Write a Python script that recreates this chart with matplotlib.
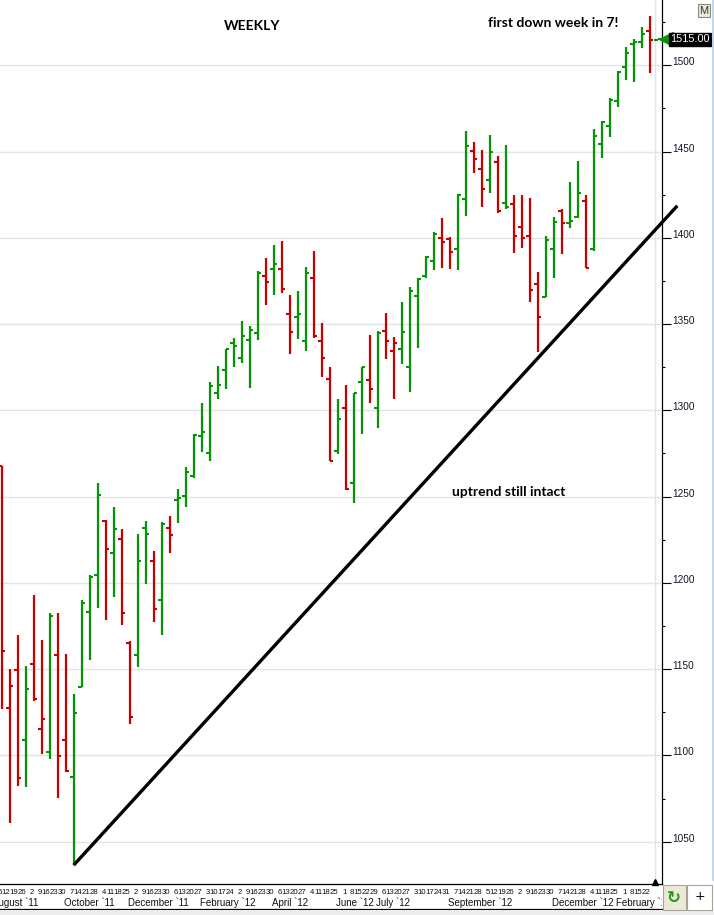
import numpy as np
import pandas as pd
import matplotlib
matplotlib.use('Agg')
import matplotlib.pyplot as plt
import matplotlib.transforms as mtransforms
from matplotlib.patches import Rectangle

# weekly bars, week ending Friday
dates = pd.date_range('2011-08-05', periods=83, freq='7D')

opens = [1267.8, 1127.3, 1149.5, 1108.9, 1153.2, 1115.4, 1102.0, 1158.4, 1109.1, 1087.7,
         1139.8, 1183.3, 1204.7, 1235.9, 1217.5, 1225.2, 1164.9, 1158.4, 1232.0, 1212.9,
         1190.1, 1232.0, 1248.2, 1250.4, 1262.1, 1285.1, 1275.5, 1310.2, 1323.4, 1339.2,
         1330.5, 1340.8, 1345.0, 1378.1, 1381.9, 1381.9, 1355.9, 1354.1, 1340.4, 1376.9,
         1340.4, 1318.0, 1276.6, 1301.6, 1258.1, 1316.3, 1317.5, 1301.6, 1346.2, 1334.6,
         1335.4, 1325.3, 1366.5, 1378.1, 1386.8, 1400.1, 1399.5, 1393.7, 1422.5, 1450.5,
         1440.1, 1433.7, 1444.1, 1420.4, 1419.8, 1406.5, 1401.2, 1373.4, 1365.9, 1393.7,
         1415.7, 1408.8, 1412.2, 1421.5, 1393.5, 1454.6, 1464.8, 1479.5, 1499.2, 1512.5,
         1513.7, 1520.1, 1514.6]
highs = [1267.8, 1149.9, 1169.8, 1151.8, 1192.7, 1166.8, 1182.8, 1182.8, 1158.8, 1135.4,
         1189.8, 1204.6, 1258.0, 1236.4, 1244.2, 1231.2, 1166.2, 1228.3, 1235.9, 1218.6,
         1235.1, 1238.8, 1254.2, 1267.0, 1286.1, 1304.3, 1316.3, 1325.7, 1335.6, 1342.1,
         1351.8, 1348.9, 1380.8, 1388.3, 1395.8, 1398.2, 1366.9, 1369.2, 1382.9, 1392.4,
         1350.5, 1324.9, 1306.4, 1314.5, 1310.2, 1325.3, 1343.5, 1346.2, 1356.3, 1342.7,
         1362.6, 1371.7, 1376.9, 1389.7, 1403.2, 1411.3, 1400.7, 1425.2, 1461.9, 1455.5,
         1450.9, 1459.6, 1447.4, 1453.8, 1424.8, 1424.8, 1423.3, 1380.2, 1401.1, 1412.1,
         1416.7, 1432.3, 1444.5, 1424.8, 1463.1, 1467.7, 1480.9, 1496.9, 1510.8, 1515.2,
         1522.4, 1528.7, 1515.4]
lows = [1126.7, 1060.7, 1082.5, 1081.9, 1131.7, 1100.8, 1097.8, 1075.5, 1090.6, 1036.4,
        1139.8, 1155.3, 1185.6, 1178.5, 1192.0, 1175.6, 1118.1, 1151.4, 1199.4, 1177.5,
        1169.8, 1217.5, 1234.5, 1244.2, 1261.0, 1276.0, 1270.8, 1306.8, 1312.6, 1325.3,
        1327.6, 1313.2, 1340.8, 1361.1, 1366.9, 1368.2, 1332.7, 1341.6, 1334.6, 1342.2,
        1319.5, 1270.6, 1274.5, 1253.8, 1246.1, 1286.3, 1304.4, 1289.6, 1329.6, 1306.8,
        1326.7, 1310.8, 1336.3, 1376.5, 1381.4, 1382.7, 1381.9, 1381.4, 1412.7, 1437.8,
        1418.1, 1426.2, 1414.2, 1416.5, 1391.4, 1394.3, 1363.0, 1334.0, 1365.5, 1376.9,
        1390.8, 1405.9, 1411.7, 1382.3, 1392.6, 1446.4, 1458.6, 1476.0, 1491.5, 1490.5,
        1509.9, 1495.3, 1514.6]
closes = [1160.7, 1140.4, 1087.1, 1138.7, 1132.9, 1121.3, 1180.9, 1099.8, 1091.0, 1124.8,
          1188.5, 1203.6, 1251.0, 1219.8, 1231.0, 1182.7, 1122.4, 1212.9, 1228.3, 1184.9,
          1234.3, 1227.9, 1249.0, 1264.3, 1285.7, 1287.6, 1314.3, 1314.9, 1335.4, 1337.3,
          1343.0, 1346.6, 1379.4, 1374.6, 1384.7, 1370.3, 1345.4, 1355.9, 1379.8, 1343.0,
          1330.5, 1270.8, 1295.2, 1254.2, 1310.2, 1324.9, 1312.6, 1345.0, 1340.0, 1339.2,
          1345.6, 1369.2, 1376.3, 1389.1, 1402.2, 1397.6, 1391.8, 1424.8, 1453.4, 1445.9,
          1428.5, 1449.9, 1415.7, 1417.9, 1401.1, 1399.7, 1369.8, 1354.3, 1398.7, 1409.2,
          1408.5, 1409.9, 1426.2, 1382.5, 1459.2, 1467.3, 1479.9, 1495.9, 1507.0, 1513.5,
          1518.2, 1514.7, 1515.0]

last_price = 1515.00
month_marks = ['2011-08', '2011-10', '2011-12', '2012-02', '2012-04', '2012-06',
               '2012-07', '2012-09', '2012-12', '2013-02']

# trendline: from the Oct 2011 low, drawn on past the right edge
trend_x = [9, 84.45]
trend_y = [1036.4, 1418.6]

GREEN = '#089408'
RED = '#c80000'

W, H = 714, 915
fig = plt.figure(figsize=(W / 100, H / 100), dpi=100)
fig.patch.set_facecolor('white')


def fx(px):
    return px / W


def fy(py):
    return 1 - py / H


ax = fig.add_axes([0, fy(884), fx(661.7), 884 / H])
ax.set_xlim(-0.21, 82.5)
ax.set_ylim(1025.47, 1537.85)

o = np.array(opens)
h = np.array(highs)
l = np.array(lows)
c = np.array(closes)
x = np.arange(len(c))
prev = np.r_[o[0], c[:-1]]
cols = np.where(c > prev, GREEN, RED)

ax.vlines(x, l, h, colors=cols, lw=1.6, capstyle='butt', zorder=3)
ax.hlines(o, x - 0.45, x, colors=cols, lw=1.5, zorder=3)
ax.hlines(c, x, x + 0.45, colors=cols, lw=1.5, zorder=3)

# grid
for v in np.arange(1050, 1501, 50):
    ax.axhline(v, color='#e4e4e4', lw=1, zorder=1)
ax.axvline(81.7, color='#e4e4e4', lw=1, zorder=1)

ax.plot(trend_x, trend_y, color='black', lw=2.4, solid_capstyle='butt',
        clip_on=False, zorder=4)

# axes styling
for side in ['top', 'left']:
    ax.spines[side].set_visible(False)
ax.spines['right'].set_linewidth(0.9)
ax.spines['bottom'].set_linewidth(0.9)
ax.set_xticks([])
ax.yaxis.tick_right()
ax.set_yticks(np.arange(1050, 1501, 50))
ax.set_yticks(np.arange(1075, 1526, 50), minor=True)
ax.tick_params(axis='y', which='major', direction='out', length=6.7, width=0.8,
               pad=0.6, labelsize=7.2, labelcolor='#141428')
ax.tick_params(axis='y', which='minor', direction='out', length=2, width=0.8)
for lab in ax.get_yticklabels():
    lab.set_fontfamily('Liberation Sans')
    lab.set_va('baseline')

# price marker on the axis
trans_fy = mtransforms.blended_transform_factory(fig.transFigure, ax.transData)
ax.plot([fx(666)], [last_price], marker='<', ms=9.5, color=GREEN,
        transform=trans_fy, clip_on=False, zorder=6)
ax.text(fx(670.5), last_price, f'{last_price:.2f}', transform=trans_fy,
        ha='left', va='center', color='white', fontsize=7.8,
        family='Liberation Sans', zorder=7,
        bbox=dict(boxstyle='square,pad=0.12', fc='black', ec='black'))

# date labels, clipped to the chart width like the original strip
strip = mtransforms.Bbox.from_extents(0, 0, 661.7, H)
trans_xf = mtransforms.blended_transform_factory(ax.transData, fig.transFigure)
for i, d in enumerate(dates[:-1]):
    t = ax.text(i + 0.08, fy(892.5), str(d.day), transform=trans_xf, ha='right',
                va='center', fontsize=5.6, family='Liberation Sans', color='#101010')
    t.set_clip_box(strip)
    t.set_clip_on(True)
for m in month_marks:
    per = pd.Period(m, 'M')
    i = int(np.argmax(dates.to_period('M') == per))
    t = ax.text(i - 1.16, fy(903), f"{dates[i].strftime('%B')} `{dates[i].strftime('%y')}",
                transform=trans_xf, ha='left', va='center', fontsize=7,
                family='Liberation Sans', color='#101010')
    t.set_clip_box(strip)
    t.set_clip_on(True)
ax.plot([81.7], [fy(881.5)], marker='^', ms=4.5, color='black',
        transform=trans_xf, clip_on=False)

# frame lines / buttons
fig.add_artist(plt.Line2D([0, fx(661.7)], [fy(909), fy(909)], color='black', lw=0.9))
fig.add_artist(plt.Line2D([fx(712.5), fx(712.5)], [fy(0), fy(880)], color='#b9d1ea', lw=1.2))
fig.add_artist(Rectangle((0, 0), 1, fy(910), transform=fig.transFigure,
                         fc='#ececec', ec='none', zorder=9))
fig.add_artist(Rectangle((fx(662.5), fy(910)), fx(23.5), 25 / H, transform=fig.transFigure,
                         fc='#ece9d8', ec='#a7a597', lw=0.8, zorder=10))
fig.add_artist(Rectangle((fx(687), fy(910)), fx(25), 25 / H, transform=fig.transFigure,
                         fc='white', ec='#a7a597', lw=0.8, zorder=10))
fig.text(fx(674.2), fy(897.5), '\u21bb', color='#1f9a1f', fontsize=12, ha='center',
         va='center', fontweight='bold', zorder=11)
fig.text(fx(699.5), fy(897), '+', color='black', fontsize=9, ha='center',
         va='center', zorder=11)
fig.text(fx(704), fy(10.5), 'M', color='#333333', fontsize=8, ha='center', va='center',
         family='Liberation Sans', zorder=11,
         bbox=dict(boxstyle='square,pad=0.15', fc='#ece9d8', ec='#8a8a80', lw=0.8))

# notes
note_kw = dict(fontsize=10, fontweight='bold', family='Lato', color='black',
               ha='center', va='center')
fig.text(fx(252.5), fy(25.7), 'WEEKLY', **note_kw)
fig.text(fx(553.3), fy(23.3), 'first down week in 7!', **note_kw)
fig.text(fx(508.5), fy(492), 'uptrend still intact', **note_kw)

fig.savefig('out.png', dpi=100)
